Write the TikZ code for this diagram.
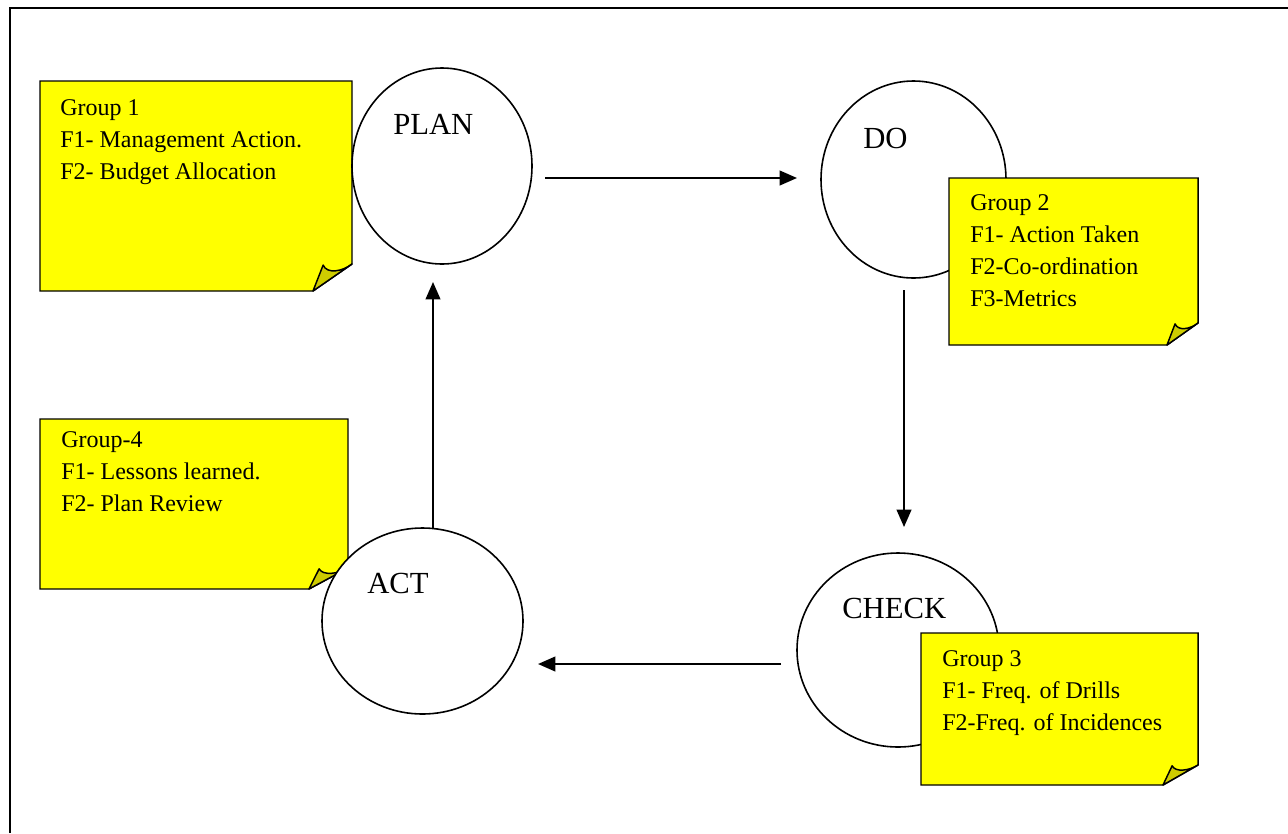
\documentclass[tikz,border=0pt]{standalone}
\usepackage{fontspec}
\setmainfont{Liberation Serif}
\usetikzlibrary{shapes.geometric,arrows.meta}
\definecolor{notey}{RGB}{255,255,0}
\definecolor{notefold}{RGB}{206,204,0}

\tikzset{
  frame/.style={line width=1.5pt, line join=miter},
  phase/.style={ellipse, draw, fill=white, line width=1.2pt, inner sep=0pt},
  phasetext/.style={font=\fontsize{23}{27}\selectfont, anchor=base west, inner sep=0pt},
  notebody/.style={draw, fill=notey, line width=1.1pt, line join=miter},
  notefoldstyle/.style={draw, fill=notefold, line width=1.1pt, line join=round},
  notetext/.style={font=\fontsize{18}{24}\selectfont, align=left, anchor=north west, inner sep=0pt},
  flow/.style={line width=1.5pt, -{Triangle[length=13pt,width=11pt]}},
}

% sticky note with a curled lower-right corner:
% left, top, right, bottom, fold width, fold height
\newcommand{\stickynote}[6]{%
  \path[notebody] (#1,#2) -- (#3,#2) -- (#3,{#4-#6}) -- ({#3-#5},#4) -- (#1,#4) -- cycle;
  \path[notefoldstyle] ({#3-#5},#4) -- ({#3-0.74*#5},{#4-0.96*#6})
    .. controls ({#3-0.64*#5},{#4-0.62*#6}) and ({#3-0.25*#5},{#4-0.72*#6}) .. (#3,{#4-#6}) -- cycle;
}

\begin{document}
\begin{tikzpicture}[x=0.75pt,y=-0.75pt]
  \useasboundingbox (0,0) rectangle (1288,833);

  % outer frame (only its top and left edges fall on the page)
  \draw[frame] (10,833) -- (10,7.5) -- (1288,7.5);

  % Group 1 and PLAN
  \stickynote{40}{81}{352}{291}{39}{27}
  \node[notetext] (g1) at (60,99) {Group 1\\F1- Management Action.\\F2- Budget Allocation};
  \node[phase, minimum width=135pt, minimum height=147pt] (plan) at (442,166) {};
  \node[phasetext] (plan-label) at (393,134) {PLAN};

  % DO and Group 2
  \node[phase, minimum width=138.75pt, minimum height=147.75pt] (do) at (913.5,179.5) {};
  \node[phasetext] (do-label) at (863,148) {DO};
  \stickynote{949}{178}{1198}{345}{31}{22}
  \node[notetext] (g2) at (970,194) {Group 2\\F1- Action Taken\\F2-Co-ordination\\F3-Metrics};

  % CHECK and Group 3
  \node[phase, minimum width=151.5pt, minimum height=145.5pt] (check) at (898,650) {};
  \node[phasetext] (check-label) at (842,618) {CHECK};
  \stickynote{921}{633}{1198}{785}{35}{20}
  \node[notetext] (g3) at (942,650) {Group 3\\F1- Freq. of Drills\\F2-Freq. of Incidences};

  % Group 4 and ACT
  \stickynote{40}{419}{348}{589}{39}{21}
  \node[notetext] (g4) at (61,431) {Group-4\\F1- Lessons learned.\\F2- Plan Review};
  \node[phase, minimum width=150.75pt, minimum height=139.5pt] (act) at (422.5,621) {};
  \node[phasetext] (act-label) at (367,593) {ACT};

  % cycle arrows
  \coordinate (p2d-a) at (545,178);  \coordinate (p2d-b) at (797,178);
  \coordinate (d2c-a) at (904,290);  \coordinate (d2c-b) at (904,527);
  \coordinate (c2a-a) at (781,664);  \coordinate (c2a-b) at (538,664);
  \coordinate (a2p-a) at (433,528);  \coordinate (a2p-b) at (433,282);
  \draw[flow] (p2d-a) -- (p2d-b);
  \draw[flow] (d2c-a) -- (d2c-b);
  \draw[flow] (c2a-a) -- (c2a-b);
  \draw[flow] (a2p-a) -- (a2p-b);
\end{tikzpicture}
\end{document}
